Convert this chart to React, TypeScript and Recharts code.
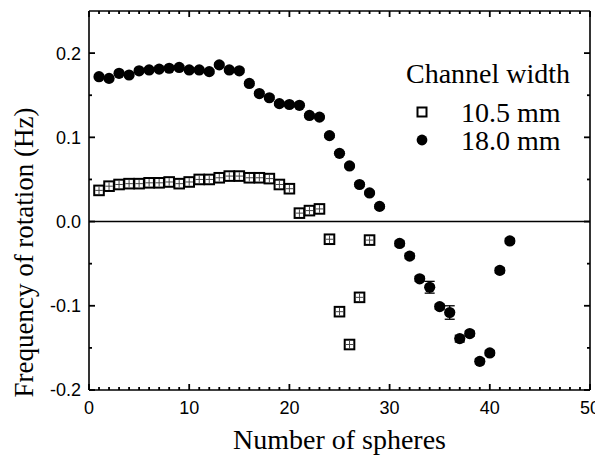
import React from "react";
import {
  ScatterChart,
  Scatter,
  XAxis,
  YAxis,
  ReferenceLine,
  ErrorBar,
  Legend,
} from "recharts";

// 10.5 mm channel (open squares)
const narrowN = [1, 2, 3, 4, 5, 6, 7, 8, 9, 10, 11, 12, 13, 14, 15, 16, 17, 18, 19, 20, 21, 22, 23, 24, 25, 26, 27, 28];
const narrowFreq = [
  0.037, 0.042, 0.044, 0.045, 0.045, 0.046, 0.046, 0.047, 0.045, 0.047, 0.05, 0.05, 0.052, 0.054, 0.054,
  0.052, 0.052, 0.051, 0.044, 0.039, 0.01, 0.013, 0.015, -0.021, -0.107, -0.146, -0.09, -0.022,
];

// 18.0 mm channel (filled circles)
const wideN = [
  1, 2, 3, 4, 5, 6, 7, 8, 9, 10, 11, 12, 13, 14, 15, 16, 17, 18, 19, 20, 21, 22, 23, 24, 25, 26, 27, 28, 29,
  31, 32, 33, 34, 35, 36, 37, 38, 39, 40, 41, 42,
];
const wideFreq = [
  0.172, 0.17, 0.176, 0.174, 0.179, 0.18, 0.181, 0.182, 0.183, 0.18, 0.18, 0.178, 0.186, 0.18, 0.179,
  0.164, 0.152, 0.147, 0.14, 0.139, 0.138, 0.126, 0.124, 0.102, 0.081, 0.066, 0.044, 0.034, 0.018,
  -0.026, -0.041, -0.068, -0.078, -0.101, -0.108, -0.139, -0.133, -0.166, -0.156, -0.058, -0.023,
];
const wideErr = [
  0.002, 0.002, 0.002, 0.002, 0.002, 0.002, 0.002, 0.002, 0.002, 0.002, 0.002, 0.002, 0.002, 0.002, 0.002,
  0.002, 0.002, 0.002, 0.002, 0.002, 0.002, 0.002, 0.002, 0.002, 0.002, 0.002, 0.002, 0.002, 0.002,
  0.003, 0.003, 0.003, 0.007, 0.003, 0.008, 0.004, 0.003, 0.003, 0.003, 0.003, 0.003,
];

const xTicks = Array.from({ length: 51 }, (_, i) => i);
const yTicks = [-0.2, -0.15, -0.1, -0.05, 0, 0.05, 0.1, 0.15, 0.2];

const narrowData = narrowN.map((n, i) => ({ x: n, y: narrowFreq[i] }));
const wideData = wideN.map((n, i) => ({ x: n, y: wideFreq[i], err: wideErr[i] }));

const SANS = "'Liberation Sans', Arial, Helvetica, sans-serif";
const SERIF = "'Liberation Serif', 'Times New Roman', serif";
const W = 595;
const H = 452;
const M = { top: 3, right: 13, bottom: 0, left: 0 };
const Y_W = 81;
const X_H = 70;
const PLOT = {
  left: M.left + Y_W,
  right: W - M.right,
  top: M.top,
  bottom: H - M.bottom - X_H,
};
const MAJ = 6;
const MIN = 3;
const XM = 24;
const YM = 8;
const TW = 1.8;
const FW = 1.6;

const isMajorX = (v: number) => v % 10 === 0;
const isMajorY = (v: number) => Math.abs(v * 10 - Math.round(v * 10)) < 1e-9;

// bottom ticks + matching ticks on the top edge; the first one also draws the top edge
const BottomTick = (p: any) => {
  const v = p.payload.value;
  const ay = p.y - XM;
  const len = isMajorX(v) ? MAJ : MIN;
  return (
    <g>
      {p.index === 0 && (
        <path d={`M${PLOT.left},${PLOT.top}H${PLOT.right}`} stroke="#000" strokeWidth={FW} fill="none" />
      )}
      <path d={`M${p.x},${ay}V${ay - len}`} stroke="#000" strokeWidth={TW} fill="none" />
      <path d={`M${p.x},${PLOT.top}V${PLOT.top + len}`} stroke="#000" strokeWidth={TW} fill="none" />
      {isMajorX(v) && (
        <text x={p.x} y={p.y} textAnchor="middle" fontSize={18} fontFamily={SANS} fill="#000">
          {v}
        </text>
      )}
    </g>
  );
};

// left ticks + matching ticks on the right edge; the first one also draws the right edge
const LeftTick = (p: any) => {
  const v = p.payload.value;
  const ax = p.x + YM;
  const rx = PLOT.right;
  const len = isMajorY(v) ? MAJ : MIN;
  return (
    <g>
      {p.index === 0 && (
        <path d={`M${rx},${PLOT.top}V${PLOT.bottom}`} stroke="#000" strokeWidth={FW} fill="none" />
      )}
      <path d={`M${ax},${p.y}H${ax + len}`} stroke="#000" strokeWidth={TW} fill="none" />
      <path d={`M${rx},${p.y}H${rx - len}`} stroke="#000" strokeWidth={TW} fill="none" />
      {isMajorY(v) && (
        <text x={p.x} y={p.y} dy="0.36em" textAnchor="end" fontSize={18} fontFamily={SANS} fill="#000">
          {v.toFixed(1)}
        </text>
      )}
    </g>
  );
};

const SquareMark = (p: any) => (
  <g>
    <rect x={p.cx - 4.8} y={p.cy - 4.8} width={9.6} height={9.6} fill="#fff" stroke="#000" strokeWidth={2} />
    <line x1={p.cx} x2={p.cx} y1={p.cy - 3.8} y2={p.cy + 3.8} stroke="#444" strokeWidth={1} />
    <line x1={p.cx - 3.8} x2={p.cx + 3.8} y1={p.cy} y2={p.cy} stroke="#444" strokeWidth={1} />
  </g>
);

const CircleMark = (p: any) => <circle cx={p.cx} cy={p.cy} r={5.6} fill="#000" />;

const LegendBox = () => (
  <svg width={200} height={110} style={{ display: "block" }}>
    <text x={6} y={31} fontSize={28} fontFamily={SERIF} fill="#000">
      Channel width
    </text>
    <rect x={17.5} y={55.5} width={9} height={9} fill="#fff" stroke="#000" strokeWidth={2} />
    <text x={61} y={70} fontSize={28} fontFamily={SERIF} fill="#000">
      10.5 mm
    </text>
    <circle cx={22} cy={88} r={5.4} fill="#000" />
    <text x={61} y={98} fontSize={28} fontFamily={SERIF} fill="#000">
      18.0 mm
    </text>
  </svg>
);

export default function App() {
  return (
    <ScatterChart width={W} height={H} margin={M}>
      <XAxis
        xAxisId="b"
        dataKey="x"
        type="number"
        domain={[0, 50]}
        ticks={xTicks}
        interval={0}
        tickSize={0}
        tickMargin={XM}
        tickLine={false}
        tick={<BottomTick />}
        axisLine={{ stroke: "#000", strokeWidth: FW }}
        height={X_H}
        label={{
          content: (props: any) => {
            const vb = props.viewBox;
            return (
              <text x={vb.x + vb.width / 2} y={vb.y + 59} textAnchor="middle" fontSize={28} fontFamily={SERIF} fill="#000">
                Number of spheres
              </text>
            );
          },
        }}
      />
      <YAxis
        yAxisId="l"
        dataKey="y"
        type="number"
        domain={[-0.2, 0.25]}
        ticks={yTicks}
        interval={0}
        tickSize={0}
        tickMargin={YM}
        tickLine={false}
        tick={<LeftTick />}
        axisLine={{ stroke: "#000", strokeWidth: FW }}
        width={Y_W}
        label={{
          content: (props: any) => {
            const vb = props.viewBox;
            const cx = vb.x + 25;
            const cy = vb.y + vb.height / 2 + 52;
            return (
              <text
                x={cx}
                y={cy}
                transform={`rotate(-90 ${cx} ${cy})`}
                textAnchor="middle"
                fontSize={27}
                fontFamily={SERIF}
                fill="#000"
              >
                Frequency of rotation (Hz)
              </text>
            );
          },
        }}
      />
      <ReferenceLine xAxisId="b" yAxisId="l" y={0} stroke="#000" strokeWidth={FW} />
      <Scatter
        name="10.5 mm"
        data={narrowData}
        xAxisId="b"
        yAxisId="l"
        shape={<SquareMark />}
        isAnimationActive={false}
      />
      <Scatter
        name="18.0 mm"
        data={wideData}
        xAxisId="b"
        yAxisId="l"
        shape={<CircleMark />}
        isAnimationActive={false}
      >
        <ErrorBar dataKey="err" direction="y" width={5} stroke="#000" strokeWidth={1.3} />
      </Scatter>
      <Legend
        layout="vertical"
        align="center"
        verticalAlign="middle"
        content={<LegendBox />}
        wrapperStyle={{ position: "absolute", left: 392, top: 44, width: 200, height: 110 }}
      />
    </ScatterChart>
  );
}
